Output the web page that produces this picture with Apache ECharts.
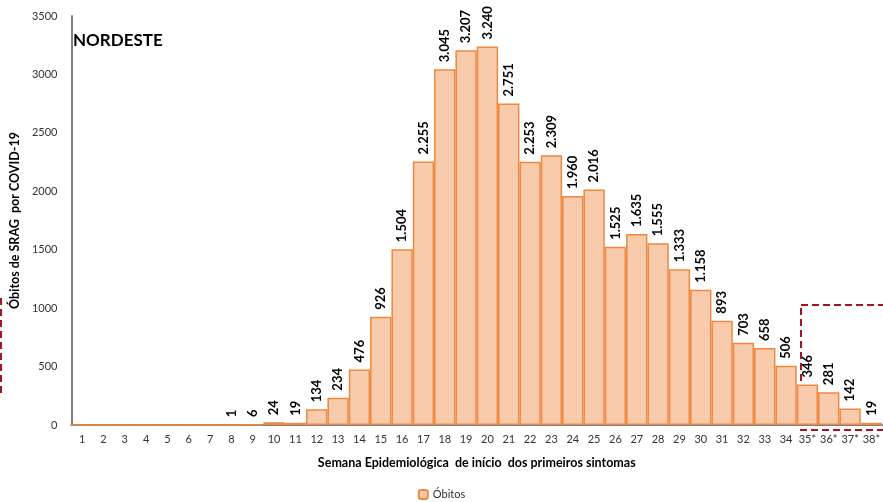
<!DOCTYPE html>
<html>
<head>
<meta charset="utf-8">
<title>Nordeste</title>
<script src="https://cdn.jsdelivr.net/npm/echarts@6/dist/echarts.min.js"></script>
</head>
<body style="margin:0">
<div id="container" style="width:883px;height:502px"></div>
<script>
var semanas = ['1','2','3','4','5','6','7','8','9','10','11','12','13','14','15','16','17','18','19',
  '20','21','22','23','24','25','26','27','28','29','30','31','32','33','34','35*','36*','37*','38*'];
var obitos = [0,0,0,0,0,0,0,1,6,24,19,134,234,476,926,1504,2255,3045,3207,
  3240,2751,2253,2309,1960,2016,1525,1635,1555,1333,1158,893,703,658,506,346,281,142,19];
var yTicks = [0, 500, 1000, 1500, 2000, 2500, 3000, 3500];

var fonte = 'Lato, "Liberation Sans", sans-serif';
var myChart = echarts.init(document.getElementById('container'));

function fmt(v) {
  // separador de milhar com ponto
  return String(v).replace(/\B(?=(\d{3})+(?!\d))/g, '.');
}

var tracejado = { stroke: '#A31520', lineWidth: 2, lineDash: [7, 4], fill: 'none' };

var option = {
  animation: false,
  textStyle: { fontFamily: fonte },
  grid: { left: 63, right: -2, top: 16, bottom: 77 },
  legend: {
    bottom: -3, left: 'center',
    itemWidth: 9, itemHeight: 9,
    textStyle: { fontSize: 11, color: '#333' },
    data: ['Óbitos']
  },
  graphic: [
    { type: 'text', left: 73, top: 32,
      style: { text: 'NORDESTE', font: 'bold 17px ' + fonte, fill: '#000' } },
    { type: 'line', shape: { x1: 1, y1: 298, x2: 1, y2: 396 }, style: tracejado },
    { type: 'rect', shape: { x: 801, y: 305, width: 100, height: 125 }, style: tracejado }
  ],
  xAxis: {
    type: 'category',
    data: semanas,
    name: 'Semana Epidemiológica  de início  dos primeiros sintomas',
    nameLocation: 'middle',
    nameGap: 31,
    nameTextStyle: { fontWeight: 'bold', fontSize: 12.5, color: '#000' },
    axisLine: { lineStyle: { color: '#808080', width: 2 } },
    axisTick: { show: false },
    axisLabel: { fontSize: 11, color: '#333', margin: 9, interval: 0 }
  },
  yAxis: {
    type: 'value',
    min: 0, max: 3500, interval: 500,
    name: 'Óbitos de SRAG  por COVID-19',
    nameLocation: 'middle',
    nameGap: 41,
    nameTextStyle: { fontWeight: 'bold', fontSize: 12.5, color: '#000' },
    axisLine: { show: true, lineStyle: { color: '#808080', width: 2 } },
    axisTick: { show: false },
    splitLine: { show: false },
    axisLabel: { fontSize: 11, color: '#333', margin: 14,
      formatter: function (v) { return yTicks.indexOf(v) >= 0 ? v : ''; } }
  },
  series: [{
    name: 'Óbitos',
    type: 'bar',
    data: obitos,
    barCategoryGap: '0%',
    itemStyle: { color: '#F8CBAD', borderColor: '#F0883F', borderWidth: 1.5 },
    label: {
      show: true,
      position: 'top',
      rotate: 90,
      align: 'left',
      verticalAlign: 'middle',
      distance: 7,
      fontSize: 13,
      fontWeight: 'bold',
      color: '#000',
      formatter: function (p) { return p.value > 0 ? fmt(p.value) : ''; }
    }
  }]
};
myChart.setOption(option);
</script>
</body>
</html>
